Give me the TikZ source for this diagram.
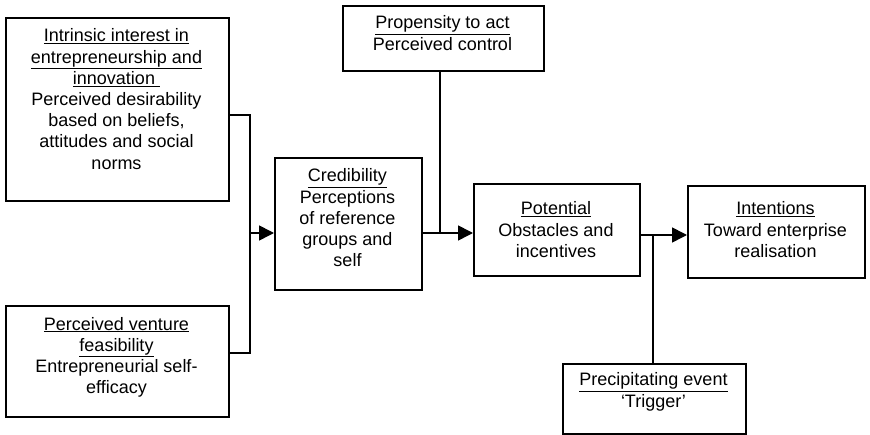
\documentclass[tikz,border=0pt]{standalone}
\usepackage{fontspec}
\setmainfont{Liberation Sans}
\usetikzlibrary{arrows.meta}
\begin{document}
\begin{tikzpicture}[x=1pt,y=-1pt,
  box/.style={draw, line width=1.6pt, inner sep=0pt, anchor=north west},
  txt/.style={anchor=base, align=center, inner sep=0pt, font=\fontsize{18}{21.2}\selectfont},
  conn/.style={line width=1.6pt},
  arr/.style={line width=1.6pt, -{Triangle[length=15pt,width=15pt]}}]
\useasboundingbox (0,0) rectangle (870,435);
% boxes
\node[box, minimum width=223pt, minimum height=183pt] (b1) at (5,17) {};
\node[box, minimum width=223pt, minimum height=111pt] (b2) at (5,305) {};
\node[box, minimum width=147pt, minimum height=132pt] (cred) at (274,157) {};
\node[box, minimum width=201pt, minimum height=65pt] (prop) at (342,5) {};
\node[box, minimum width=166pt, minimum height=92pt] (pot) at (473,183) {};
\node[box, minimum width=177pt, minimum height=92pt] (int) at (687,185) {};
\node[box, minimum width=183pt, minimum height=70pt] (prec) at (562,363) {};
% texts (anchored at the baseline of their last line)
\node[txt] (b1t) at (116.5,169.2) {\underline{Intrinsic interest in}\\\underline{entrepreneurship and}\\\underline{innovation }\\Perceived desirability\\based on beliefs,\\attitudes and social\\norms};
\node[txt] (b2t) at (116.5,393.6) {\underline{Perceived venture}\\\underline{feasibility}\\Entrepreneurial self-\\efficacy};
\node[txt] (credt) at (347.5,266.8) {\underline{Credibility}\\Perceptions\\of reference\\groups and\\self};
\node[txt] (propt) at (442.5,50.2) {\underline{Propensity to act}\\Perceived control};
\node[txt] (pott) at (556,257.4) {\underline{Potential}\\Obstacles and\\incentives};
\node[txt] (intt) at (775.5,257.4) {\underline{Intentions}\\Toward enterprise\\realisation};
\node[txt] (prect) at (653.5,407.2) {\underline{Precipitating event}\\‘Trigger’};
% junction coordinates
\coordinate (j1) at (250,115);
\coordinate (j2) at (250,353);
\coordinate (j3) at (250,233);
\coordinate (j4) at (440,233);
\coordinate (j5) at (653,235);
% connectors
\draw[conn] (b1.east |- j1) -| (j2) -- (b2.east |- j2);
\draw[arr] (j3) -- (cred.west |- j3);
\draw[arr] (cred.east |- j4) -- (pot.west |- j4);
\draw[conn] (prop.south -| j4) -- (j4);
\draw[arr] (pot.east |- j5) -- (int.west |- j5);
\draw[conn] (prec.north -| j5) -- (j5);
\end{tikzpicture}
\end{document}
